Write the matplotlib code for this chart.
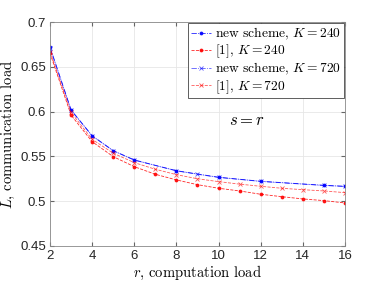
import matplotlib
matplotlib.use("Agg")
import matplotlib.pyplot as plt

plt.rcParams['mathtext.fontset'] = 'cm'
plt.rcParams['font.family'] = ['Liberation Sans', 'DejaVu Sans']

r_all = [2, 3, 4, 5, 6, 7, 8, 9, 10, 11, 12, 13, 14, 15, 16]
r_240 = [2, 3, 4, 5, 6, 8, 10, 12, 15, 16]
r_720 = [2, 3, 4, 5, 6, 8, 9, 10, 12, 15, 16]

new_240 = [0.672, 0.6018, 0.573, 0.5564, 0.546, 0.534, 0.5267, 0.5222, 0.5177, 0.5166]
old_240 = [0.665, 0.596, 0.5664, 0.5497, 0.5385, 0.530, 0.5237, 0.5184, 0.5144,
           0.5114, 0.5077, 0.505, 0.5025, 0.5006, 0.498]
new_720 = [0.671, 0.6015, 0.5728, 0.5562, 0.5458, 0.5338, 0.530, 0.5265, 0.522, 0.5175, 0.5164]
old_720 = [0.667, 0.599, 0.569, 0.5535, 0.543, 0.5356, 0.5296, 0.525, 0.5218,
           0.519, 0.5166, 0.5144, 0.5128, 0.5114, 0.5095]

labels = [r'new scheme, $K=240$', r'[1], $K=240$',
          r'new scheme, $K=720$', r'[1], $K=720$']

fig = plt.figure(figsize=(3.82, 2.84), dpi=100)
ax = fig.add_axes([0.131, 0.134, 0.772, 0.7885])

lw = 0.6
ax.plot(r_240, new_240, color='blue', ls='-.', lw=lw, marker='.', ms=3.5, alpha=0.85, label=labels[0])
ax.plot(r_all, old_240, color='red', ls='--', lw=lw, marker='.', ms=3.5, alpha=0.85, label=labels[1])
ax.plot(r_720, new_720, color='blue', ls='-.', lw=lw, marker='x', ms=2.5, mew=0.6, alpha=0.65, label=labels[2])
ax.plot(r_all, old_720, color='red', ls='--', lw=lw, marker='x', ms=2.5, mew=0.6, alpha=0.65, label=labels[3])

ax.set_xlim(2, 16)
ax.set_ylim(0.45, 0.7)
ax.set_xticks([2, 4, 6, 8, 10, 12, 14, 16])
ax.set_yticks([0.45, 0.5, 0.55, 0.6, 0.65, 0.7])
ax.set_yticklabels(['0.45', '0.5', '0.55', '0.6', '0.65', '0.7'])
ax.grid(True, color='#e6e6e6', lw=0.6)
ax.tick_params(direction='in', top=True, right=True, labelsize=9.5, length=3,
               color='#666666', labelcolor='#262626', pad=3)
for s in ax.spines.values():
    s.set_color('#888888')
    s.set_linewidth(0.6)

ax.set_xlabel(r'$r$, computation load', family='cmr10', fontsize=10.5, labelpad=1)
ax.set_ylabel(r'$L$, communication load', family='cmr10', fontsize=10.5, labelpad=2)

ax.text(11.35, 0.590, r'$s=r$', fontsize=12, ha='center', va='center')

leg = ax.legend(loc='upper right', prop={'family': 'cmr10', 'size': 9.7},
                borderaxespad=0.1, handlelength=1.5, handletextpad=0.3,
                labelspacing=0.05, borderpad=0.2, fancybox=False, framealpha=1)
leg.get_frame().set_edgecolor('#444444')
leg.get_frame().set_linewidth(0.6)

fig.savefig('out.png', dpi=100)
